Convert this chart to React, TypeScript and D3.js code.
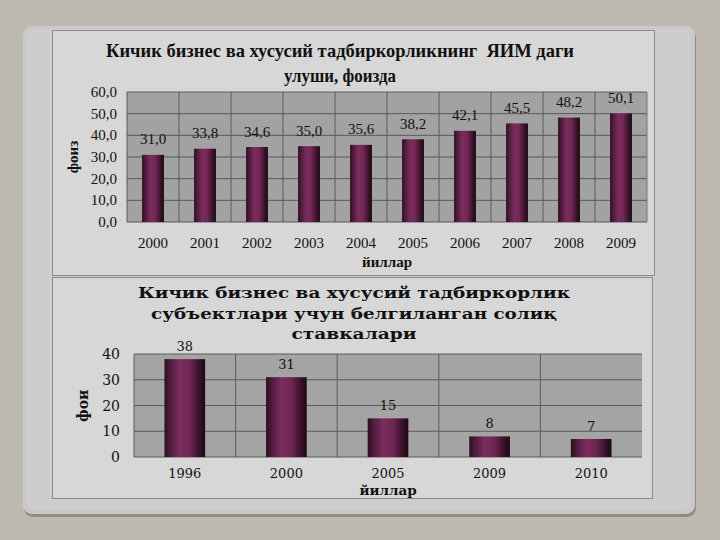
import React from "react";
import * as d3 from "d3";

const topYears = ["2000", "2001", "2002", "2003", "2004", "2005", "2006", "2007", "2008", "2009"];
const topValues = [31.0, 33.8, 34.6, 35.0, 35.6, 38.2, 42.1, 45.5, 48.2, 50.1];
const topTicks = [0, 10, 20, 30, 40, 50, 60];
const topTitle = ["Кичик бизнес ва хусусий тадбиркорликнинг  ЯИМ даги", "улуши, фоизда"];

const botYears = ["1996", "2000", "2005", "2009", "2010"];
const botValues = [38, 31, 15, 8, 7];
const botTicks = [0, 10, 20, 30, 40];
const botTitle = ["Кичик бизнес ва хусусий тадбиркорлик", "субъектлари учун белгиланган солиқ", "ставкалари"];

const xTitle = "йиллар";
const yTitle = "фоиз";

const serif = "'Liberation Serif', 'Times New Roman', serif";
const wide = "'DejaVu Serif', serif";

function BarGrad({ id }: { id: string }) {
  return (
    <linearGradient id={id} x1="0" x2="1" y1="0" y2="0">
      <stop offset="0%" stopColor="#2a0d1e" />
      <stop offset="12%" stopColor="#4a1a38" />
      <stop offset="38%" stopColor="#7c2d5e" />
      <stop offset="62%" stopColor="#6e2653" />
      <stop offset="85%" stopColor="#3a1229" />
      <stop offset="100%" stopColor="#1c0913" />
    </linearGradient>
  );
}

export default function App() {
  const fmt1 = (v: number) => d3.format(".1f")(v).replace(".", ",");

  // top chart
  const tx = d3.scaleBand<string>().domain(topYears).range([127, 647]);
  const ty = d3.scaleLinear().domain([0, 60]).range([222, 92]);
  const tbw = tx.bandwidth() * 0.42;

  // bottom chart
  const bx = d3.scaleBand<string>().domain(botYears).range([134, 642]);
  const by = d3.scaleLinear().domain([0, 40]).range([457, 354]);
  const bbw = bx.bandwidth() * 0.4;

  return (
    <svg width={720} height={540} style={{ position: "absolute", left: 0, top: 0 }}>
      <defs>
        <BarGrad id="bar" />
        <clipPath id="yclip">
          <rect x={60} y={389} width={40} height={60} />
        </clipPath>
      </defs>
      <rect x={0} y={0} width={720} height={540} fill="#bdb8b0" />
      {/* outer panel with shadow */}
      <rect x={24} y={29} width={672} height={488} rx={9} fill="#8f8c88" />
      <rect x={23} y={26} width={672} height={488} rx={9} fill="#c9c9c9" />
      <rect x={27} y={29} width={664} height={481} rx={7} fill="#cdcdcd" />

      {/* top chart frame */}
      <rect x={52.5} y={30.5} width={602} height={245} fill="#d7d7d7" stroke="#8a8a8a" strokeWidth={1} />
      {topTitle.map((t, i) => (
        <text key={i} x={340} y={57 + i * 25} textAnchor="middle" fontFamily={serif} fontWeight="bold" fontSize={19} fill="#111"
          style={{ whiteSpace: "pre" }} textLength={i === 0 ? 468 : 112} lengthAdjust="spacingAndGlyphs">{t}</text>
      ))}
      <rect x={127} y={92} width={520} height={130} fill="#a2a2a2" />
      {topTicks.map((t) => (
        <line key={t} x1={127} x2={647} y1={ty(t)} y2={ty(t)} stroke="#5a5a5a" strokeWidth={1} />
      ))}
      {topYears.map((y) => (
        <line key={y} x1={tx(y)!} x2={tx(y)!} y1={92} y2={222} stroke="#5a5a5a" strokeWidth={1} />
      ))}
      <line x1={647} x2={647} y1={92} y2={222} stroke="#777" strokeWidth={1} />
      {topYears.map((y, i) => {
        const cx = tx(y)! + tx.bandwidth() / 2;
        return (
          <g key={y}>
            <rect x={cx - tbw / 2} y={ty(topValues[i])} width={tbw} height={ty(0) - ty(topValues[i])} fill="url(#bar)" />
            <text x={cx} y={ty(topValues[i]) - 10.5} textAnchor="middle" fontFamily={serif} fontSize={15} fill="#111">{fmt1(topValues[i])}</text>
            <text x={cx} y={248} textAnchor="middle" fontFamily={serif} fontSize={15} fill="#111">{y}</text>
          </g>
        );
      })}
      {topTicks.map((t) => (
        <text key={t} x={117} y={ty(t) + 5} textAnchor="end" fontFamily={serif} fontSize={15} fill="#111">{fmt1(t)}</text>
      ))}
      <text x={387} y={267} textAnchor="middle" fontFamily={serif} fontWeight="bold" fontSize={15} fill="#111">{xTitle}</text>
      <text transform="translate(78,157) rotate(-90)" textAnchor="middle" fontFamily={serif} fontWeight="bold" fontSize={15} fill="#111">{yTitle}</text>

      {/* bottom chart frame */}
      <rect x={52.5} y={277.5} width={600} height={221} fill="#d7d7d7" stroke="#8a8a8a" strokeWidth={1} />
      {botTitle.map((t, i) => (
        <text key={i} x={354} y={298 + i * 20.5} textAnchor="middle" fontFamily={wide} fontWeight="bold" fontSize={14.5} fill="#111"
          textLength={[432, 406, 125][i]} lengthAdjust="spacingAndGlyphs">{t}</text>
      ))}
      <rect x={134} y={354} width={508} height={103} fill="#a4a4a4" />
      {botTicks.map((t) => (
        <line key={t} x1={134} x2={642} y1={by(t)} y2={by(t)} stroke="#5a5a5a" strokeWidth={1} />
      ))}
      {botYears.map((y) => (
        <line key={y} x1={bx(y)!} x2={bx(y)!} y1={354} y2={457} stroke="#5a5a5a" strokeWidth={1} />
      ))}
      {botYears.map((y, i) => {
        const cx = bx(y)! + bx.bandwidth() / 2;
        return (
          <g key={y}>
            <rect x={cx - bbw / 2} y={by(botValues[i])} width={bbw} height={by(0) - by(botValues[i])} fill="url(#bar)" />
            <text x={cx} y={by(botValues[i]) - 8} textAnchor="middle" fontFamily={wide} fontSize={13} fill="#111">{botValues[i]}</text>
            <text x={cx} y={478} textAnchor="middle" fontFamily={wide} fontSize={13} fill="#111">{y}</text>
          </g>
        );
      })}
      {botTicks.map((t) => (
        <text key={t} x={120} y={by(t) + 5} textAnchor="end" fontFamily={wide} fontSize={14} fill="#111">{t}</text>
      ))}
      <text x={388} y={495} textAnchor="middle" fontFamily={wide} fontWeight="bold" fontSize={13.5} fill="#111">{xTitle}</text>
      <g clipPath="url(#yclip)">
        <text transform="translate(88,422) rotate(-90)" textAnchor="start" fontFamily={wide} fontWeight="bold" fontSize={14} fill="#111">{yTitle}</text>
      </g>
    </svg>
  );
}
